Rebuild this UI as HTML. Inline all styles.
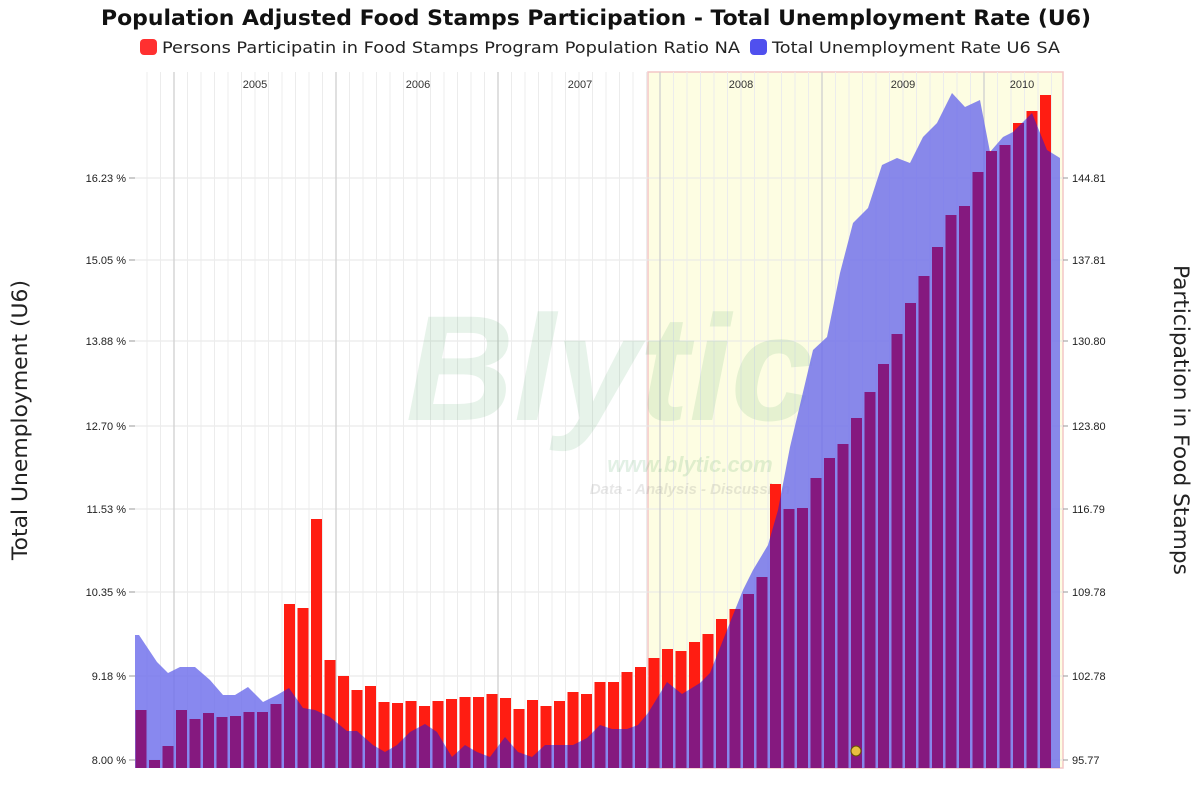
<!DOCTYPE html>
<html><head><meta charset="utf-8"><style>
body{margin:0;background:#fff;width:1200px;height:800px;overflow:hidden;font-family:"Liberation Sans",sans-serif}
</style></head><body>
<svg id="s" width="1200" height="800" xmlns="http://www.w3.org/2000/svg" font-family="Liberation Sans, sans-serif">
<text x="596" y="25" text-anchor="middle" font-size="21.5" font-weight="bold" fill="#111" font-family="DejaVu Sans, sans-serif" textLength="990" lengthAdjust="spacingAndGlyphs">Population Adjusted Food Stamps Participation - Total Unemployment Rate (U6)</text>
<rect x="140" y="39" width="17" height="16" rx="4" fill="#ff3030"/>
<text x="162" y="53" font-size="16" fill="#222" font-family="DejaVu Sans, sans-serif" textLength="578" lengthAdjust="spacingAndGlyphs">Persons Participatin in Food Stamps Program Population Ratio NA</text>
<rect x="750" y="39" width="17" height="16" rx="4" fill="#5050ee"/>
<text x="772" y="53" font-size="16" fill="#222" font-family="DejaVu Sans, sans-serif" textLength="288" lengthAdjust="spacingAndGlyphs">Total Unemployment Rate U6 SA</text>
<text transform="translate(27,420) rotate(-90)" text-anchor="middle" font-size="21" fill="#222" font-family="DejaVu Sans, sans-serif" textLength="280" lengthAdjust="spacingAndGlyphs">Total Unemployment (U6)</text>
<text transform="translate(1174,420) rotate(90)" text-anchor="middle" font-size="21" fill="#222" font-family="DejaVu Sans, sans-serif" textLength="310" lengthAdjust="spacingAndGlyphs">Participation in Food Stamps</text>
<g id="g"></g>
</svg>
<script>
var g=document.getElementById('g'),h='';
h+='<rect x="135" y="72" width="928" height="696" fill="#fff"/>';
h+='<rect x="648" y="72" width="415" height="696" fill="#fdfde2" stroke="#f3c6c6" stroke-width="1.5"/>';
var ly=[760,676,592,509,426,341,260,178],lt=['8.00 %','9.18 %','10.35 %','11.53 %','12.70 %','13.88 %','15.05 %','16.23 %'],rt=['95.77','102.78','109.78','116.79','123.80','130.80','137.81','144.81'];
for(var i=0;i<8;i++){h+='<line x1="135" x2="1063" y1="'+ly[i]+'" y2="'+ly[i]+'" stroke="#e6e6e6"/>';
h+='<text x="126" y="'+(ly[i]+4)+'" text-anchor="end" font-size="11" fill="#222">'+lt[i]+'</text>';
h+='<text x="1072" y="'+(ly[i]+4)+'" font-size="11" fill="#222">'+rt[i]+'</text>';
h+='<line x1="129" x2="135" y1="'+ly[i]+'" y2="'+ly[i]+'" stroke="#999"/><line x1="1063" x2="1068" y1="'+ly[i]+'" y2="'+ly[i]+'" stroke="#999"/>';}
for(var k=-2;k<66;k++){var x=174+13.5*k;if(x<=136||x>=1062)continue;var yr=(k%12==0);
h+='<line x1="'+x+'" x2="'+x+'" y1="72" y2="768" stroke="'+(yr?'#cfcfcf':'#ececec')+'" stroke-width="'+(yr?1.3:1)+'"/>';}
var yl=[['2005',255],['2006',418],['2007',580],['2008',741],['2009',903],['2010',1022]];
yl.forEach(function(a){h+='<text x="'+a[1]+'" y="88" text-anchor="middle" font-size="11" fill="#333">'+a[0]+'</text>';});
h+='<text x="610" y="420" text-anchor="middle" font-size="150" font-weight="bold" font-style="italic" fill="#3a9a50" fill-opacity="0.12">Blytic</text>';
h+='<text x="690" y="472" text-anchor="middle" font-size="22" font-weight="bold" font-style="italic" fill="#3a9a50" fill-opacity="0.15">www.blytic.com</text>';
h+='<text x="690" y="494" text-anchor="middle" font-size="15" font-weight="bold" font-style="italic" fill="#888" fill-opacity="0.2">Data - Analysis - Discussion</text>';
var tops=[710,760,746,710,719,713,717,716,712,712,704,604,608,519,660,676,690,686,702,703,701,706,701,699,697,697,694,698,709,700,706,701,692,694,682,682,672,667,658,649,651,642,634,619,609,594,577,484,509,508,478,458,444,418,392,364,334,303,276,247,215,206,172,151,145,123,111,95];
var pts=[[135,635],[139,635],[157,662],[168,673],[180,667],[195,667],[210,680],[223,695],[235,695],[248,687],[263,702],[277,695],[289,688],[303,708],[315,710],[330,717],[347,731],[357,731],[373,745],[385,752],[397,745],[410,732],[425,724],[437,732],[452,757],[465,745],[477,752],[490,757],[505,737],[518,752],[532,757],[545,745],[573,745],[587,738],[600,725],[612,729],[627,729],[638,725],[648,713],[667,682],[682,694],[700,683],[710,673],[727,630],[743,590],[753,570],[768,545],[778,510],[790,447],[813,350],[827,337],[840,273],[853,223],[868,208],[882,165],[897,158],[910,163],[923,137],[937,123],[952,93],[965,107],[980,100],[990,152],[1003,137],[1013,132],[1032,113],[1047,150],[1060,158],[1060,768],[135,768]];
var poly=pts.map(function(p){return p.join(',')}).join(' ');
h+='<defs><clipPath id="ca"><polygon points="'+poly+'"/></clipPath></defs>';
h+='<polygon points="'+poly+'" fill="#6e6eec" fill-opacity="0.82"/>';
var rb='',pb='';
tops.forEach(function(t,i){var x=135+13.5*i+0.5;var r='<rect x="'+x+'" y="'+t+'" width="11" height="'+(768-t)+'"';rb+=r+' fill="#ff1d12"/>';pb+=r+' fill="#85197f"/>';});
h+=rb+'<g clip-path="url(#ca)">'+pb+'</g>';
h+='<circle cx="856" cy="751" r="5" fill="#e8c040" stroke="#665500"/>';
g.innerHTML=h;
</script>
</body></html>
